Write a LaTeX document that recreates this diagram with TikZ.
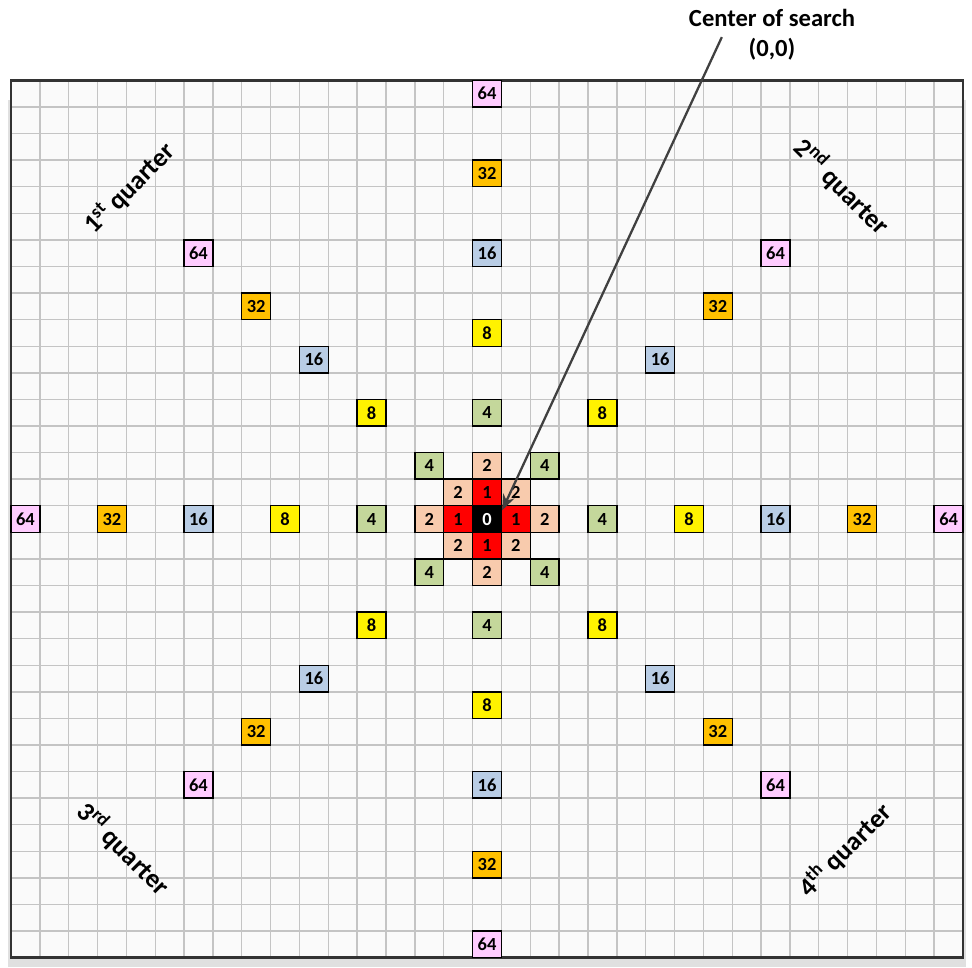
\documentclass[tikz,border=0pt]{standalone}
\usepackage{fontspec}
\setmainfont{Carlito}
\usetikzlibrary{arrows.meta}
\definecolor{PeachCell}{RGB}{248,203,173}
\definecolor{SageCell}{RGB}{196,215,155}
\definecolor{BlueCell}{RGB}{185,205,229}
\definecolor{AmberCell}{RGB}{255,192,0}
\definecolor{PinkCell}{RGB}{255,204,255}
\definecolor{GridLine}{RGB}{196,196,196}
\definecolor{PointerGray}{RGB}{64,64,64}
\tikzset{
	sq/.style={draw=black,line width=0.8pt,minimum width=0.577cm,minimum height=0.5316cm,
		inner sep=0pt,font=\fontsize{10.5}{11}\selectfont\bfseries},
	s0/.style={sq,fill=black,text=white},
	s1/.style={sq,fill=red},
	s2/.style={sq,fill=PeachCell},
	s4/.style={sq,fill=SageCell},
	s8/.style={sq,fill=yellow},
	s16/.style={sq,fill=BlueCell},
	s32/.style={sq,fill=AmberCell},
	s64/.style={sq,fill=PinkCell},
	quarter/.style={font=\fontsize{15}{17}\selectfont\bfseries,inner sep=0pt},
	pointer/.style={draw=PointerGray,line width=1.3pt,-{Stealth[length=9pt,width=7pt]}},
}

\begin{document}
\begin{tikzpicture}[x=0.577cm,y=0.5316cm]
			\useasboundingbox (-16.88,-16.855) rectangle (16.811,19.526);
			% sheet with its shadow
			\fill[black!12] (-16.6,-16.855) rectangle (16.6,15.76);
			\fill[black!2] (-16.5,-16.5) rectangle (16.5,16.5);
			\draw[GridLine,line width=0.8pt,step=1,shift={(-0.5,-0.5)}] (-16,-16) grid (17,17);
			\draw[black!80,line width=1.6pt] (-16.5,-16.5) rectangle (16.5,16.5);
			% centre and first step
			\node[s0] (c0) at (0,0) {0};
			\node[s1] (c1e) at (1,0) {1};
			\node[s1] (c1n) at (0,1) {1};
			\node[s1] (c1w) at (-1,0) {1};
			\node[s1] (c1s) at (0,-1) {1};
			% step 2
			\node[s2] (c2e) at (2,0) {2};
			\node[s2] (c2n) at (0,2) {2};
			\node[s2] (c2w) at (-2,0) {2};
			\node[s2] (c2s) at (0,-2) {2};
			\node[s2] (c2ne) at (1,1) {2};
			\node[s2] (c2nw) at (-1,1) {2};
			\node[s2] (c2sw) at (-1,-1) {2};
			\node[s2] (c2se) at (1,-1) {2};
			% step 4
			\node[s4] (c4e) at (4,0) {4};
			\node[s4] (c4n) at (0,4) {4};
			\node[s4] (c4w) at (-4,0) {4};
			\node[s4] (c4s) at (0,-4) {4};
			\node[s4] (c4ne) at (2,2) {4};
			\node[s4] (c4nw) at (-2,2) {4};
			\node[s4] (c4sw) at (-2,-2) {4};
			\node[s4] (c4se) at (2,-2) {4};
			% step 8
			\node[s8] (c8e) at (7,0) {8};
			\node[s8] (c8n) at (0,7) {8};
			\node[s8] (c8w) at (-7,0) {8};
			\node[s8] (c8s) at (0,-7) {8};
			\node[s8] (c8ne) at (4,4) {8};
			\node[s8] (c8nw) at (-4,4) {8};
			\node[s8] (c8sw) at (-4,-4) {8};
			\node[s8] (c8se) at (4,-4) {8};
			% step 16
			\node[s16] (c16e) at (10,0) {16};
			\node[s16] (c16n) at (0,10) {16};
			\node[s16] (c16w) at (-10,0) {16};
			\node[s16] (c16s) at (0,-10) {16};
			\node[s16] (c16ne) at (6,6) {16};
			\node[s16] (c16nw) at (-6,6) {16};
			\node[s16] (c16sw) at (-6,-6) {16};
			\node[s16] (c16se) at (6,-6) {16};
			% step 32
			\node[s32] (c32e) at (13,0) {32};
			\node[s32] (c32n) at (0,13) {32};
			\node[s32] (c32w) at (-13,0) {32};
			\node[s32] (c32s) at (0,-13) {32};
			\node[s32] (c32ne) at (8,8) {32};
			\node[s32] (c32nw) at (-8,8) {32};
			\node[s32] (c32sw) at (-8,-8) {32};
			\node[s32] (c32se) at (8,-8) {32};
			% step 64
			\node[s64] (c64e) at (16,0) {64};
			\node[s64] (c64n) at (0,16) {64};
			\node[s64] (c64w) at (-16,0) {64};
			\node[s64] (c64s) at (0,-16) {64};
			\node[s64] (c64ne) at (10,10) {64};
			\node[s64] (c64nw) at (-10,10) {64};
			\node[s64] (c64sw) at (-10,-10) {64};
			\node[s64] (c64se) at (10,-10) {64};
			% quarters
			\node[quarter,rotate=45] (q1) at (-12.4,12.45) {1\textsuperscript{st} quarter};
			\node[quarter,rotate=-45] (q2) at (12.3,12.5) {2\textsuperscript{nd} quarter};
			\node[quarter,rotate=-45] (q3) at (-12.6,-12.4) {3\textsuperscript{rd} quarter};
			\node[quarter,rotate=45] (q4) at (12.4,-12.45) {4\textsuperscript{th} quarter};
			% callout
			\node[font=\fontsize{14}{17}\selectfont\bfseries,align=center] (search) at (9.88,18.21) {Center of search\\(0,0)};
			\coordinate (tail) at (8.14,18.13);
			\draw[pointer] (tail) -- (c0.30);
		\end{tikzpicture}
\end{document}
